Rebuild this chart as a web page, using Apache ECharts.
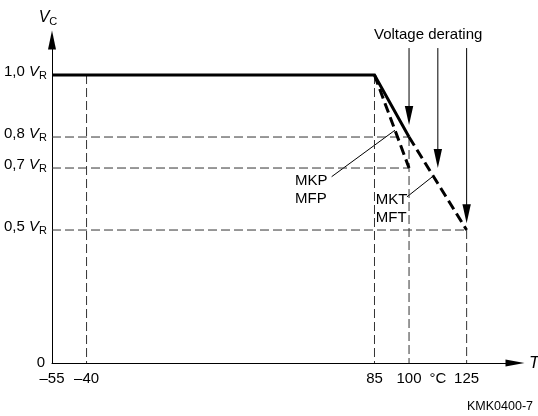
<!DOCTYPE html>
<html><head><meta charset="utf-8">
<script src="https://cdn.jsdelivr.net/npm/echarts@6/dist/echarts.min.js"></script>
<style>html,body{margin:0;padding:0;background:#fff}#c{width:538px;height:416px}</style>
</head><body><div id="c"></div>
<script>
// ---- axis ticks / ranges ----
const xMin = -55, xMax = 146, yMax = 1.113;
const xTicks = [-55, -40, 85, 100, 125];
const unitTick = 112.5;                 // where the "°C" unit label sits
const yTicks = [0, 0.5, 0.7, 0.8, 1.0];
const yTickLabels = ['0', '0,5', '0,7', '0,8', '1,0'];
const yBreak = [0.1, 0.171];            // schematic (compressed) part of the V axis

// ---- curves (T in °C, V_C / V_R) ----
const ratedSolid = [[-55, 1.0], [85, 1.0], [100, 0.8]];
const mktDashed  = [[100, 0.8], [125, 0.5]];
const mkpDashed  = [[85, 1.0], [100, 0.7]];

// ---- guide lines ----
const guideVertical   = [[-40, 1.0], [85, 1.0], [100, 0.8], [125, 0.5]];  // [x, top y]
const guideHorizontal = [[0.8, 100], [0.7, 100], [0.5, 125]];             // [y, right x]

// ---- annotations (data coordinates) ----
const arrowX    = [100, 112.5, 125];
const arrowTipY = [0.839, 0.70, 0.522];
const arrowTopY = 1.087;
const deratingTextAt = [108.3, 1.129];
const mkpText = ['MKP', 'MFP'], mkpTextAt = [50.5, 0.629], mkpLeader = [[66.4, 0.672], [93.9, 0.822]];
const mktText = ['MKT', 'MFT'], mktTextAt = [85.6, 0.568], mktLeader = [[99.1, 0.607], [110.5, 0.674]];

const FONT = "'Liberation Sans', Arial, Helvetica, sans-serif";
const chart = echarts.init(document.getElementById('c'));

const guideStyle = {type: [9, 4], width: 1, color: '#333'};
const series = [];
guideVertical.forEach(([x, top]) => series.push({
  type: 'line', data: [[x, top], [x, 0]], symbol: 'none', silent: true, z: 1, lineStyle: guideStyle
}));
guideHorizontal.forEach(([y, right]) => series.push({
  type: 'line', data: [[xMin, y], [right, y]], symbol: 'none', silent: true, z: 1, lineStyle: guideStyle
}));
series.push({type: 'line', data: ratedSolid, symbol: 'none', z: 3,
  lineStyle: {width: 3, color: '#000', cap: 'butt', join: 'miter'}});
series.push({type: 'line', data: mktDashed, symbol: 'none', z: 3,
  lineStyle: {width: 3, color: '#000', type: [10, 5]}});
series.push({type: 'line', data: mkpDashed, symbol: 'none', z: 3,
  lineStyle: {width: 3, color: '#000', type: [10, 5]}});

const richVR = {
  v: {fontStyle: 'italic', fontSize: 15, fontFamily: FONT, color: '#000'},
  s: {fontSize: 11, fontFamily: FONT, color: '#000', padding: [8, 0, 0, 0]},
  z: {fontSize: 15, fontFamily: FONT, color: '#000', padding: [5, 2, 0, 0]}
};

chart.setOption({
  animation: false,
  backgroundColor: '#fff',
  grid: {left: 52, right: 23, top: 40, bottom: 53, containLabel: false, outerBoundsMode: 'none'},
  xAxis: {
    type: 'value', min: xMin, max: xMax,
    axisLine: {show: true, onZero: false, lineStyle: {color: '#000', width: 1},
      symbol: ['none', 'triangle'], symbolSize: [7, 19]},
    axisTick: {show: false}, splitLine: {show: false},
    axisLabel: {
      customValues: [...xTicks, unitTick],
      formatter: v => v === unitTick ? '°C' : (v < 0 ? '\u2013' + Math.abs(v) : String(v)),
      margin: 8, fontSize: 15, fontFamily: FONT, color: '#000'
    },
    name: 'T', nameLocation: 'end', nameGap: 14,
    nameTextStyle: {fontStyle: 'italic', fontSize: 17, fontFamily: FONT, color: '#000'}
  },
  yAxis: {
    type: 'value', min: 0, max: yMax,
    breaks: [{start: yBreak[0], end: yBreak[1], gap: 0}],
    breakArea: {show: false, expandOnClick: false, itemStyle: {opacity: 0, borderWidth: 0}},
    axisLine: {show: true, onZero: false, lineStyle: {color: '#000', width: 1},
      symbol: ['none', 'triangle'], symbolSize: [8, 19]},
    axisTick: {show: false}, splitLine: {show: false},
    axisLabel: {
      customValues: yTicks,
      formatter: v => {
        const lab = yTickLabels[yTicks.indexOf(v)];
        return v === 0 ? '{z|' + lab + '}' : lab + ' {v|V}{s|R}';
      },
      margin: 5, fontSize: 15, fontFamily: FONT, color: '#000', padding: [0, 0, 6, 0],
      rich: richVR
    },
    name: '{v|V}{s|C}', nameLocation: 'end', nameGap: 13,
    nameTextStyle: {fontSize: 15, fontFamily: FONT, color: '#000', padding: [0, 8, 0, 0], rich: {
      v: {fontStyle: 'italic', fontSize: 16, fontFamily: FONT, color: '#000'},
      s: {fontSize: 11, fontFamily: FONT, color: '#000', padding: [8, 0, 0, 0]}
    }}
  },
  series
});

function P(pt) { return chart.convertToPixel({xAxisIndex: 0, yAxisIndex: 0}, pt); }
const g = [];
arrowX.forEach((x, i) => {
  const a = P([x, arrowTopY]), b = P([x, arrowTipY[i]]);
  const headL = 19, headW = 4.2;
  g.push({type: 'line', shape: {x1: a[0], y1: a[1], x2: b[0], y2: b[1] - headL + 2},
    style: {stroke: '#000', lineWidth: 1}});
  g.push({type: 'polygon', shape: {points: [[b[0] - headW, b[1] - headL], [b[0] + headW, b[1] - headL], [b[0], b[1]]]},
    style: {fill: '#000'}});
});
const dt = P(deratingTextAt);
g.push({type: 'text', x: dt[0], y: dt[1], style: {text: 'Voltage derating', fontSize: 15, fontFamily: FONT,
  fill: '#000', align: 'center', verticalAlign: 'middle'}});
[[mkpText, mkpTextAt, mkpLeader], [mktText, mktTextAt, mktLeader]].forEach(([txt, at, leader]) => {
  const p = P(at);
  g.push({type: 'text', x: p[0], y: p[1], style: {text: txt.join('\n'), fontSize: 15, fontFamily: FONT,
    lineHeight: 18, fill: '#000', align: 'left', verticalAlign: 'middle'}});
  const s = P(leader[0]), e = P(leader[1]);
  g.push({type: 'line', shape: {x1: s[0], y1: s[1], x2: e[0], y2: e[1]}, style: {stroke: '#000', lineWidth: 1}});
});
g.push({type: 'text', right: 5, bottom: 3, style: {text: 'KMK0400-7', fontSize: 12.5, fontFamily: FONT, fill: '#000'}});
chart.setOption({graphic: g});
</script>
</body></html>
